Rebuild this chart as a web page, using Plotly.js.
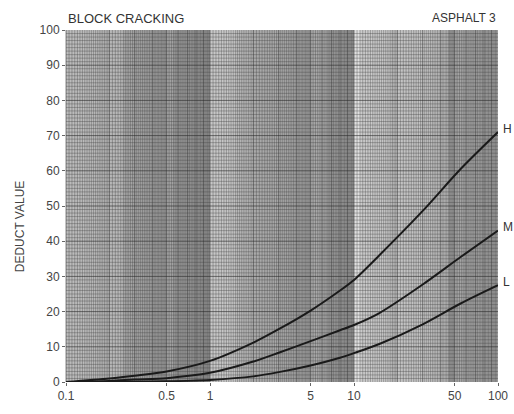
<!DOCTYPE html>
<html>
<head>
<meta charset="utf-8">
<script src="https://cdn.plot.ly/plotly-3.0.1.min.js"></script>
<style>html,body{margin:0;padding:0;background:#fff;}#chart{width:514px;height:414px;}</style>
</head>
<body>
<div id="chart"></div>
<script>
// Density (%) on log axis
const density = [0.1, 0.2, 0.3, 0.5, 1, 2, 3, 5, 8, 10, 15, 30, 55, 100];
// Deduct values per severity
const highDV   = [0, 1.0, 1.8, 3.0, 6.0, 11.2, 15.0, 20.3, 26.0, 29.0, 36.0, 48.6, 60.5, 71.0];
const mediumDV = [0, 0.3, 0.7, 1.1, 2.6, 5.8, 8.3, 11.6, 14.7, 16.2, 19.6, 27.7, 35.5, 43.0];
const lowDV    = [0, 0.0, 0.1, 0.2, 0.6, 1.6, 2.8, 4.7, 6.9, 8.2, 10.8, 16.4, 22.3, 27.5];
const severities = ["H", "M", "L"];
const xTickVals = [0.1, 0.5, 1, 5, 10, 50, 100];
const xTickText = ["0.1", "0.5", "1", "5", "10", "50", "100"];
const yTickVals = [0, 10, 20, 30, 40, 50, 60, 70, 80, 90, 100];

// background texture (decorative log-paper grid)
const shapes = [];
function xf(v){ return (Math.log10(v) + 1) / 3; }
const bands = [
  [0.1, 0.2, 'rgba(255,255,255,0.06)'],
  [0.25, 0.55, 'rgba(0,0,0,0.10)'],
  [0.55, 1.0, 'rgba(0,0,0,0.16)'],
  [1.0, 1.5, 'rgba(255,255,255,0.22)'],
  [1.5, 2.0, 'rgba(255,255,255,0.08)'],
  [2.0, 6.5, 'rgba(0,0,0,0.08)'],
  [6.5, 10, 'rgba(0,0,0,0.14)'],
  [10, 11, 'rgba(255,255,255,0.55)'],
  [11, 18, 'rgba(255,255,255,0.28)'],
  [18, 45, 'rgba(255,255,255,0.16)'],
  [45, 100, 'rgba(0,0,0,0.10)']
];
bands.forEach(b => shapes.push({type:'rect', xref:'paper', yref:'paper', x0:xf(b[0]), x1:xf(b[1]), y0:0, y1:1,
  fillcolor:b[2], line:{width:0}, layer:'below'}));
[0.1, 1, 10].forEach(d => {
  const vals = [];
  for (let v = 1; v < 2 - 1e-9; v += 0.05) vals.push(v);
  for (let v = 2; v < 5 - 1e-9; v += 0.1) vals.push(v);
  for (let v = 5; v < 10 - 1e-9; v += 0.2) vals.push(v);
  vals.forEach(v => {
    const x = xf(v * d);
    const major = Math.abs(v - Math.round(v)) < 1e-6;
    shapes.push({type:'line', xref:'paper', yref:'paper', x0:x, x1:x, y0:0, y1:1,
      line:{color: major ? 'rgba(40,40,40,0.55)' : 'rgba(60,60,60,0.35)', width:1}, layer:'below'});
  });
});
for (let k = 1; k < 100; k++) {
  const major = k % 10 === 0;
  shapes.push({type:'line', xref:'paper', yref:'y', x0:0, x1:1, y0:k, y1:k,
    line:{color: major ? 'rgba(40,40,40,0.6)' : 'rgba(60,60,60,0.34)', width:1}, layer:'below'});
}

const series = [highDV, mediumDV, lowDV];
const traces = series.map((ys, i) => ({
  x: density, y: ys, type:'scatter', mode:'lines', name: severities[i],
  line:{color:'#1a1a1a', width:2, shape:'spline', smoothing:0.8},
  hoverinfo:'skip', showlegend:false
}));

const annotations = [
  {text:'BLOCK CRACKING', xref:'paper', yref:'paper', x:0, y:1.034, xanchor:'left', yanchor:'middle', showarrow:false,
   font:{family:'Liberation Sans, Arial', size:13, color:'#333'}},
  {text:'ASPHALT 3', xref:'paper', yref:'paper', x:1, y:1.034, xanchor:'right', yanchor:'middle', showarrow:false,
   font:{family:'Liberation Sans, Arial', size:12, color:'#333'}},
  {text:'DEDUCT VALUE', xref:'paper', yref:'paper', x:-0.106, y:0.443, textangle:-90, xanchor:'center', yanchor:'middle', showarrow:false,
   font:{family:'Liberation Sans, Arial', size:12, color:'#444'}}
];
severities.forEach((s, i) => {
  const ys = series[i];
  annotations.push({text:s, xref:'paper', yref:'y', x:1, y:ys[ys.length-1] + 1, xanchor:'left', yanchor:'middle', xshift:3,
    showarrow:false, font:{family:'Liberation Sans, Arial', size:12, color:'#333'}});
});

const layout = {
  width:514, height:414,
  margin:{l:66, r:16, t:30, b:32, pad:0},
  paper_bgcolor:'#ffffff', plot_bgcolor:'#b8b8b8',
  xaxis:{type:'log', range:[-1, 2], tickvals:xTickVals, ticktext:xTickText, showgrid:false, zeroline:false,
    ticks:'outside', ticklen:3, tickcolor:'#666', showline:false,
    tickfont:{family:'Liberation Sans, Arial', size:12, color:'#444'}},
  yaxis:{range:[0, 100], tickvals:yTickVals, showgrid:false, zeroline:false,
    ticks:'outside', ticklen:3, tickcolor:'#666', showline:false,
    tickfont:{family:'Liberation Sans, Arial', size:12, color:'#444'}},
  shapes: shapes,
  annotations: annotations,
  showlegend:false
};
Plotly.newPlot('chart', traces, layout, {displayModeBar:false, staticPlot:true});
</script>
</body>
</html>
